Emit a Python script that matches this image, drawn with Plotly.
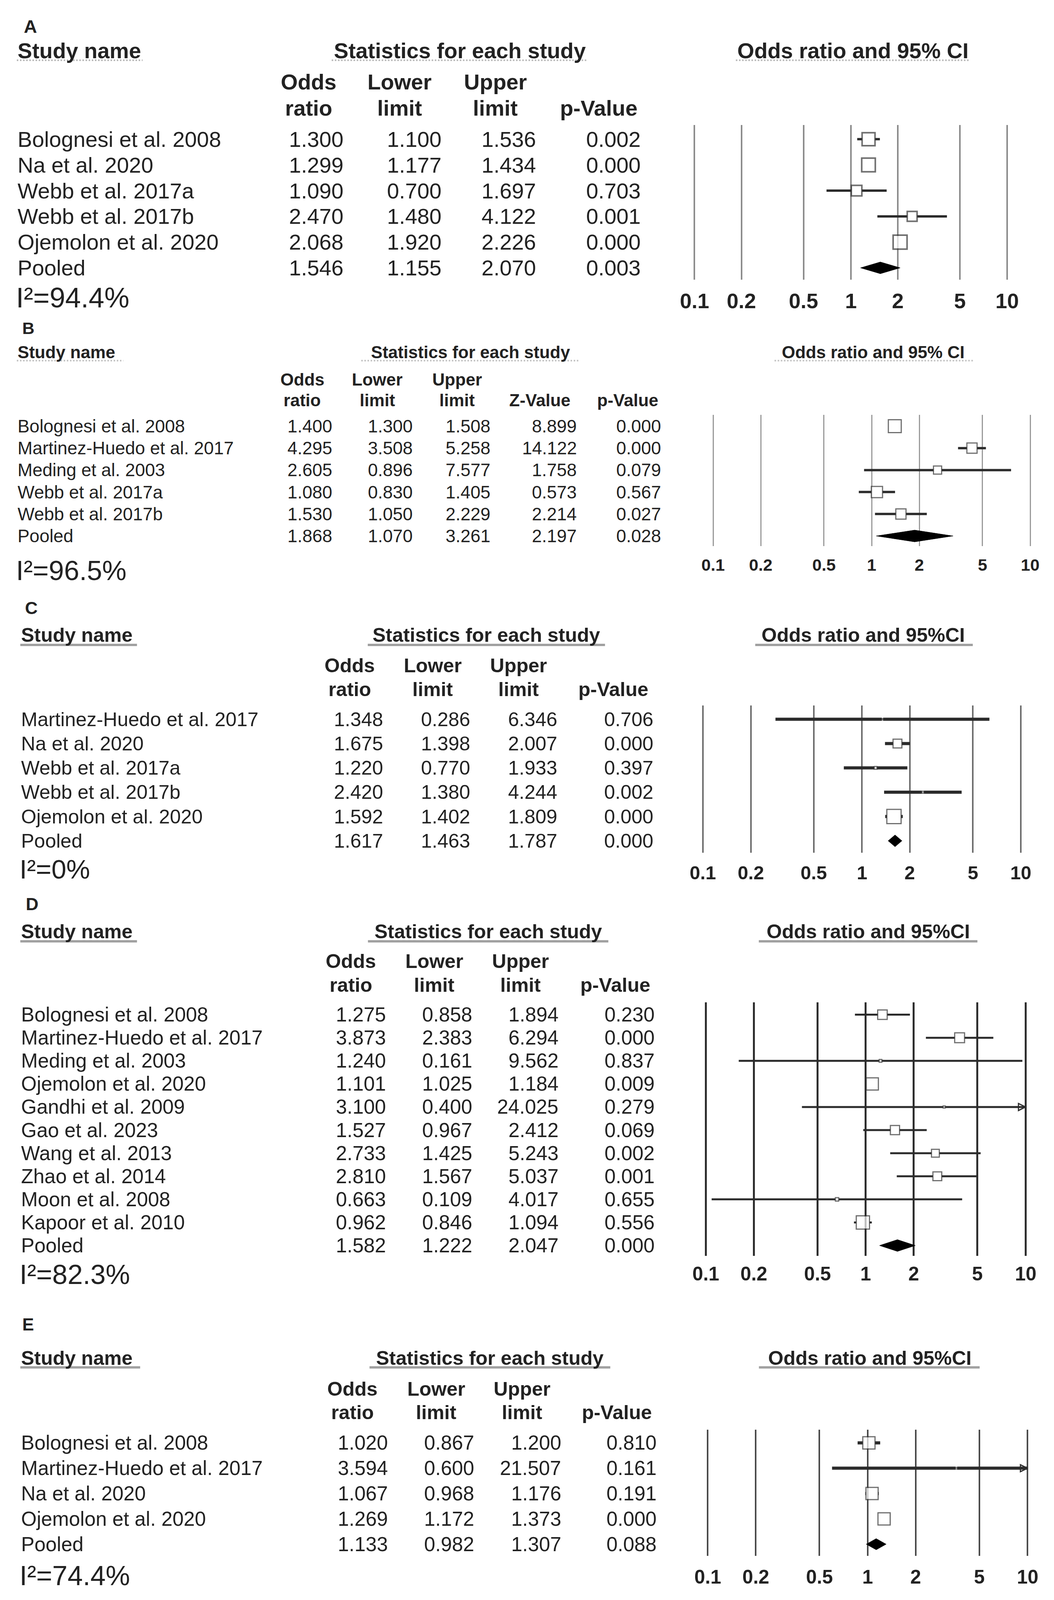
import math
import plotly.graph_objects as go

# reference geometry (pixels of the 2699 x 5448 reference); the browser viewport is
# only 4096 px tall, so the figure is drawn 4096 px tall with the same relative layout
W, REF_H = 2699, 5448
FIG_H = 4096
VS = FIG_H / REF_H   # vertical scale reference -> figure
FS = 0.9             # font scale
MS = 0.87            # marker scale
FONT = "Liberation Sans, Arial, Helvetica, sans-serif"
TXT = "#222222"

tick_vals = [0.1, 0.2, 0.5, 1, 2, 5, 10]
tick_text = ["0.1", "0.2", "0.5", "1", "2", "5", "10"]

# ---------------- data ----------------
a_studies = ["Bolognesi et al. 2008", "Na et al. 2020", "Webb et al. 2017a",
             "Webb et al. 2017b", "Ojemolon et al. 2020", "Pooled"]
a_or = [1.300, 1.299, 1.090, 2.470, 2.068, 1.546]
a_lo = [1.100, 1.177, 0.700, 1.480, 1.920, 1.155]
a_hi = [1.536, 1.434, 1.697, 4.122, 2.226, 2.070]
a_p = [0.002, 0.000, 0.703, 0.001, 0.000, 0.003]
a_i2 = "94.4%"

b_studies = ["Bolognesi et al. 2008", "Martinez-Huedo et al. 2017", "Meding et al. 2003",
             "Webb et al. 2017a", "Webb et al. 2017b", "Pooled"]
b_or = [1.400, 4.295, 2.605, 1.080, 1.530, 1.868]
b_lo = [1.300, 3.508, 0.896, 0.830, 1.050, 1.070]
b_hi = [1.508, 5.258, 7.577, 1.405, 2.229, 3.261]
b_z = [8.899, 14.122, 1.758, 0.573, 2.214, 2.197]
b_p = [0.000, 0.000, 0.079, 0.567, 0.027, 0.028]
b_i2 = "96.5%"

c_studies = ["Martinez-Huedo et al. 2017", "Na et al. 2020", "Webb et al. 2017a",
             "Webb et al. 2017b", "Ojemolon et al. 2020", "Pooled"]
c_or = [1.348, 1.675, 1.220, 2.420, 1.592, 1.617]
c_lo = [0.286, 1.398, 0.770, 1.380, 1.402, 1.463]
c_hi = [6.346, 2.007, 1.933, 4.244, 1.809, 1.787]
c_p = [0.706, 0.000, 0.397, 0.002, 0.000, 0.000]
c_i2 = "0%"

d_studies = ["Bolognesi et al. 2008", "Martinez-Huedo et al. 2017", "Meding et al. 2003",
             "Ojemolon et al. 2020", "Gandhi et al. 2009", "Gao et al. 2023",
             "Wang et al. 2013", "Zhao et al. 2014", "Moon et al. 2008",
             "Kapoor et al. 2010", "Pooled"]
d_or = [1.275, 3.873, 1.240, 1.101, 3.100, 1.527, 2.733, 2.810, 0.663, 0.962, 1.582]
d_lo = [0.858, 2.383, 0.161, 1.025, 0.400, 0.967, 1.425, 1.567, 0.109, 0.846, 1.222]
d_hi = [1.894, 6.294, 9.562, 1.184, 24.025, 2.412, 5.243, 5.037, 4.017, 1.094, 2.047]
d_p = [0.230, 0.000, 0.837, 0.009, 0.279, 0.069, 0.002, 0.001, 0.655, 0.556, 0.000]
d_i2 = "82.3%"

e_studies = ["Bolognesi et al. 2008", "Martinez-Huedo et al. 2017", "Na et al. 2020",
             "Ojemolon et al. 2020", "Pooled"]
e_or = [1.020, 3.594, 1.067, 1.269, 1.133]
e_lo = [0.867, 0.600, 0.968, 1.172, 0.982]
e_hi = [1.200, 21.507, 1.176, 1.373, 1.307]
e_p = [0.810, 0.161, 0.191, 0.000, 0.088]
e_i2 = "74.4%"

# ---------------- layout / style per panel (reference pixel positions) ----------------
panels = [
    dict(label="A", studies=a_studies, orr=a_or, lo=a_lo, hi=a_hi, z=None, p=a_p, i2=a_i2,
         ci_title="Odds ratio and 95% CI", name_x=43, label_x=78, label_y=91,
         hdr_y=172, ul_y=205, ul_dash="dot", ul_color="#b8b8b8", ul_w=4,
         ul_spans=[(43, 401), (813, 1540), (1851, 2517)], stats_cx=1177, ci_cx=2184,
         ch_y=(288, 358),
         col_hdr=[("Odds", "ratio", 790), ("Lower", "limit", 1023), ("Upper", "limit", 1268),
                  ("", "p-Value", 1533)],
         col_right=[882, 1133, 1375, 1643],
         row0=474, row_step=87.6, grid_top=426, grid_bot=953, gx=(1778, 2579),
         tick_y=1024, i2_y=1014,
         fs=62, fs_h=62, fs_t=60, fs_i2=80, fs_l=52,
         grid_color="#8c8c8c", grid_w=4, ci_w=6, box_w=4,
         boxes=[38, 40, 31, 29, 41], dia_px=40),
    dict(label="B", studies=b_studies, orr=b_or, lo=b_lo, hi=b_hi, z=b_z, p=b_p, i2=b_i2,
         ci_title="Odds ratio and 95% CI", name_x=43, label_x=72, label_y=1117,
         hdr_y=1199, ul_y=1228, ul_dash="dot", ul_color="#c4c4c4", ul_w=4,
         ul_spans=[(43, 346), (894, 1514), (1955, 2522)], stats_cx=1205, ci_cx=2236,
         ch_y=(1298, 1358),
         col_hdr=[("Odds", "ratio", 774), ("Lower", "limit", 966), ("Upper", "limit", 1170),
                  ("", "Z-Value", 1382), ("", "p-Value", 1607)],
         col_right=[853, 1059, 1258, 1479, 1695],
         row0=1451, row_step=74.8, grid_top=1413, grid_bot=1859, gx=(1826, 2638),
         tick_y=1923, i2_y=1942,
         fs=51, fs_h=49, fs_t=48, fs_i2=78, fs_l=48,
         grid_color="#9a9a9a", grid_w=3, ci_w=6, box_w=3,
         boxes=[38, 30, 24, 33, 30], dia_px=40),
    dict(label="C", studies=c_studies, orr=c_or, lo=c_lo, hi=c_hi, z=None, p=c_p, i2=c_i2,
         ci_title="Odds ratio and 95%CI", name_x=52, label_x=80, label_y=2070,
         hdr_y=2162, ul_y=2196, ul_dash="solid", ul_color="#a0a0a0", ul_w=6,
         ul_spans=[(52, 384), (908, 1583), (1903, 2522)], stats_cx=1245, ci_cx=2210,
         ch_y=(2273, 2340),
         col_hdr=[("Odds", "ratio", 895), ("Lower", "limit", 1108), ("Upper", "limit", 1328),
                  ("", "p-Value", 1570)],
         col_right=[983, 1206, 1429, 1675],
         row0=2449, row_step=82.8, grid_top=2402, grid_bot=2904, gx=(1800, 2614),
         tick_y=2972, i2_y=2960,
         fs=56, fs_h=56, fs_t=54, fs_i2=76, fs_l=50,
         grid_color="#6e6e6e", grid_w=4, ci_w=8, box_w=3,
         boxes=[4, 26, 8, 6, 42], dia_px=40),
    dict(label="D", studies=d_studies, orr=d_or, lo=d_lo, hi=d_hi, z=None, p=d_p, i2=d_i2,
         ci_title="Odds ratio and 95%CI", name_x=52, label_x=82, label_y=3079,
         hdr_y=3171, ul_y=3205, ul_dash="solid", ul_color="#a0a0a0", ul_w=6,
         ul_spans=[(52, 384), (908, 1592), (1912, 2534)], stats_cx=1250, ci_cx=2223,
         ch_y=(3277, 3350),
         col_hdr=[("Odds", "ratio", 898), ("Lower", "limit", 1112), ("Upper", "limit", 1333),
                  ("", "p-Value", 1575)],
         col_right=[990, 1211, 1432, 1678],
         row0=3455, row_step=78.6, grid_top=3413, grid_bot=4276, gx=(1807, 2626),
         tick_y=4337, i2_y=4340,
         fs=57, fs_h=56, fs_t=55, fs_i2=78, fs_l=50,
         grid_color="#2e2e2e", grid_w=5, ci_w=5, box_w=3,
         boxes=[28, 29, 8, 36, 6, 27, 23, 26, 10, 39], dia_px=40),
    dict(label="E", studies=e_studies, orr=e_or, lo=e_lo, hi=e_hi, z=None, p=e_p, i2=e_i2,
         ci_title="Odds ratio and 95%CI", name_x=52, label_x=72, label_y=4510,
         hdr_y=4624, ul_y=4656, ul_dash="solid", ul_color="#a0a0a0", ul_w=6,
         ul_spans=[(52, 393), (912, 1597), (1912, 2540)], stats_cx=1254, ci_cx=2227,
         ch_y=(4734, 4804),
         col_hdr=[("Odds", "ratio", 902), ("Lower", "limit", 1117), ("Upper", "limit", 1337),
                  ("", "p-Value", 1579)],
         col_right=[995, 1216, 1439, 1683],
         row0=4913, row_step=86.25, grid_top=4868, grid_bot=5298, gx=(1812, 2631),
         tick_y=5369, i2_y=5365,
         fs=57, fs_h=56, fs_t=55, fs_i2=78, fs_l=50,
         grid_color="#4a4a4a", grid_w=4, ci_w=8, box_w=3,
         boxes=[36, 5, 36, 36], dia_px=38),
]


def px(x):
    return x / W


def py(y):
    return 1 - y / REF_H


fig = go.Figure()
annotations = []
shapes = []
XMAX = 10.0
LINE_C = "#2b2b2b"

for i, P in enumerate(panels, start=1):
    xa = "x" if i == 1 else f"x{i}"
    ya = "y" if i == 1 else f"y{i}"
    n = len(P["studies"])
    k_pool = n - 1
    step = P["row_step"]
    last_row = P["row0"] + step * (n - 1)
    r_top = -(P["row0"] - P["grid_top"]) / step
    r_bot = (n - 1) + (P["grid_bot"] - last_row) / step

    g0, g1 = P["gx"]
    dec = (g1 - g0) / 2.0          # pixels per decade
    pad = 0.1
    dom = [px(g0 - pad * dec), px(g1 + pad * dec)]

    fig.layout[("xaxis" if i == 1 else f"xaxis{i}")] = dict(
        type="log", domain=dom, range=[-1 - pad, 1 + pad], anchor=ya,
        tickvals=tick_vals, ticktext=tick_text, showticklabels=False, ticks="",
        showgrid=True, gridcolor=P["grid_color"],
        gridwidth=P["grid_w"], zeroline=False, showline=False, fixedrange=True,
    )
    fig.layout[("yaxis" if i == 1 else f"yaxis{i}")] = dict(
        domain=[py(P["grid_bot"]), py(P["grid_top"])], range=[r_bot, r_top],
        anchor=xa, visible=False, fixedrange=True,
    )

    ks = list(range(n - 1))
    sizes = [max(3, s * MS) for s in P["boxes"]]
    # CI whiskers, split so that they stop at the box edges
    lx, ly = [], []
    for k in ks:
        half = (sizes[k] / 2.0) / dec          # half box width in decades
        left_end = P["orr"][k] / (10 ** half)
        right_start = P["orr"][k] * (10 ** half)
        hi_c = min(P["hi"][k], XMAX)
        if P["lo"][k] < left_end:
            lx += [P["lo"][k], left_end, None]
            ly += [k, k, None]
        if hi_c > right_start:
            lx += [right_start, hi_c, None]
            ly += [k, k, None]
    fig.add_trace(go.Scatter(x=lx, y=ly, xaxis=xa, yaxis=ya, mode="lines",
                             line=dict(color=LINE_C, width=P["ci_w"]),
                             hoverinfo="skip", showlegend=False))
    fig.add_trace(go.Scatter(x=P["orr"][:-1], y=ks, xaxis=xa, yaxis=ya, mode="markers",
                             marker=dict(symbol="square", size=sizes, color="white",
                                         line=dict(color="#333333", width=P["box_w"])),
                             hoverinfo="skip", showlegend=False))
    # arrow heads where the CI runs past the axis end
    arrows_y = [k for k in ks if P["hi"][k] > XMAX]
    if arrows_y:
        fig.add_trace(go.Scatter(x=[XMAX] * len(arrows_y), y=arrows_y, xaxis=xa, yaxis=ya,
                                 mode="markers",
                                 marker=dict(symbol="arrow-right-open", size=18, color=LINE_C,
                                             line=dict(color=LINE_C, width=3)),
                                 cliponaxis=False, hoverinfo="skip", showlegend=False))
    # pooled diamond
    h = P["dia_px"] / 2.0 / step
    o, lo, hi = P["orr"][k_pool], P["lo"][k_pool], P["hi"][k_pool]
    fig.add_trace(go.Scatter(x=[lo, o, hi, o, lo],
                             y=[k_pool, k_pool - h, k_pool, k_pool + h, k_pool],
                             xaxis=xa, yaxis=ya, mode="lines", fill="toself",
                             fillcolor="black", line=dict(color="black", width=1),
                             hoverinfo="skip", showlegend=False))

    # tick labels
    for v, t in zip(tick_vals, tick_text):
        annotations.append(dict(text=f"<b>{t}</b>", x=math.log10(v), y=py(P["tick_y"]),
                                xref=xa, yref="paper", xanchor="center", yanchor="middle",
                                showarrow=False,
                                font=dict(family=FONT, size=P["fs_t"] * FS, color=TXT)))
    # panel label
    annotations.append(dict(text=f"<b>{P['label']}</b>", x=px(P["label_x"]), y=py(P["label_y"]),
                            xref="paper", yref="paper", xanchor="center", yanchor="middle",
                            showarrow=False,
                            font=dict(family=FONT, size=P["fs_l"] * FS, color=TXT)))
    # headers
    hf = dict(family=FONT, size=P["fs_h"] * FS, color=TXT)
    annotations.append(dict(text="<b>Study name</b>", x=px(P["name_x"]), y=py(P["hdr_y"]),
                            xref="paper", yref="paper", xanchor="left", yanchor="middle",
                            showarrow=False, font=hf))
    annotations.append(dict(text="<b>Statistics for each study</b>", x=px(P["stats_cx"]),
                            y=py(P["hdr_y"]), xref="paper", yref="paper", xanchor="center",
                            yanchor="middle", showarrow=False, font=hf))
    annotations.append(dict(text=f"<b>{P['ci_title']}</b>", x=px(P["ci_cx"]), y=py(P["hdr_y"]),
                            xref="paper", yref="paper", xanchor="center", yanchor="middle",
                            showarrow=False, font=hf))
    # underlines under the three headers (scaled with the header font)
    (s0, s1), (t0, t1), (c0, c1) = P["ul_spans"]
    spans = [(s0, s0 + (s1 - s0) * FS)]
    for (u0, u1) in [(t0, t1), (c0, c1)]:
        mid, half = (u0 + u1) / 2.0, (u1 - u0) / 2.0 * FS
        spans.append((mid - half, mid + half))
    for (x0, x1) in spans:
        shapes.append(dict(type="line", xref="paper", yref="paper", x0=px(x0), x1=px(x1),
                           y0=py(P["ul_y"]), y1=py(P["ul_y"]),
                           line=dict(color=P["ul_color"], width=P["ul_w"], dash=P["ul_dash"])))
    # column headers (two lines, spread just enough not to collide)
    c_mid = (P["ch_y"][0] + P["ch_y"][1]) / 2.0
    c_sep = max(P["ch_y"][1] - P["ch_y"][0], P["fs_h"] * FS * 1.2 / VS)
    ch1, ch2 = c_mid - c_sep / 2.0, c_mid + c_sep / 2.0
    for (l1, l2, cx) in P["col_hdr"]:
        if l1:
            annotations.append(dict(text=f"<b>{l1}</b>", x=px(cx), y=py(ch1),
                                    xref="paper", yref="paper", xanchor="center",
                                    yanchor="middle", showarrow=False, font=hf))
        annotations.append(dict(text=f"<b>{l2}</b>", x=px(cx), y=py(ch2),
                                xref="paper", yref="paper", xanchor="center",
                                yanchor="middle", showarrow=False, font=hf))
    # table rows
    bf = dict(family=FONT, size=P["fs"] * FS, color=TXT)
    cols = [P["orr"], P["lo"], P["hi"]]
    if P["z"] is not None:
        cols.append(P["z"])
    cols.append(P["p"])
    for k in range(n):
        annotations.append(dict(text=P["studies"][k], x=px(P["name_x"]), y=k, xref="paper",
                                yref=ya, xanchor="left", yanchor="middle", showarrow=False,
                                font=bf))
        for c, xr in zip(cols, P["col_right"]):
            annotations.append(dict(text=f"{c[k]:.3f}", x=px(xr), y=k, xref="paper", yref=ya,
                                    xanchor="right", yanchor="middle", showarrow=False,
                                    font=bf))
    # I^2
    annotations.append(dict(text=f"I\u00b2={P['i2']}", x=px(P["name_x"] - 4),
                            y=py(P["i2_y"]), xref="paper", yref="paper", xanchor="left",
                            yanchor="middle", showarrow=False,
                            font=dict(family=FONT, size=P["fs_i2"] * FS, color=TXT)))

fig.update_layout(width=W, height=FIG_H, margin=dict(l=0, r=0, t=0, b=0, pad=0),
                  paper_bgcolor="white", plot_bgcolor="white", showlegend=False,
                  annotations=annotations, shapes=shapes,
                  font=dict(family=FONT, color=TXT))

post_js = """
document.documentElement.style.margin='0';
document.body.style.margin='0';
document.body.style.overflow='hidden';
"""

fig.write_html("out.html", post_script=post_js, config={"displayModeBar": False})
